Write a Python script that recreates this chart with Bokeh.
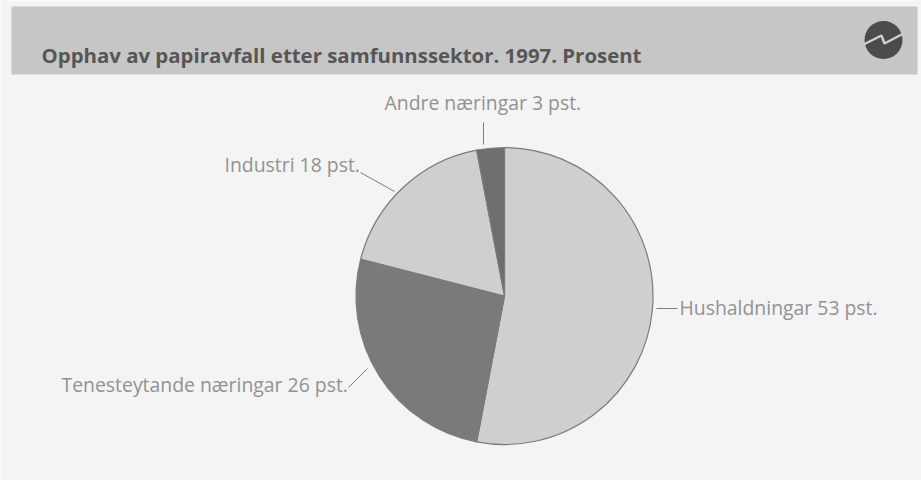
from math import pi
from bokeh.plotting import figure
from bokeh.models import Range1d
from bokeh.core.properties import value
from bokeh.embed import file_html
from bokeh.resources import INLINE

title_text = "Opphav av papiravfall etter samfunnssektor. 1997. Prosent"
categories = ["Hushaldningar", "Tenesteytande næringar", "Industri", "Andre næringar"]
shares = [53, 26, 18, 3]
colors = ["#cfcfcf", "#7b7979", "#cfcfcf", "#6f6d6d"]
labels = ["Hushaldningar 53 pst.", "Tenesteytande næringar 26 pst.", "Industri 18 pst.", "Andre næringar 3 pst."]

W, H = 921, 480
BG = "#f4f4f4"
TXT = "#929292"
def Y(py):
    return H - py
def X(px):
    return px

p = figure(width=W, height=H, x_range=Range1d(0, W), y_range=Range1d(0, H),
           output_backend="svg", toolbar_location=None, min_border=0,
           background_fill_color=BG, border_fill_color=BG, outline_line_color=None)
p.xaxis.visible = False
p.yaxis.visible = False
p.grid.visible = False

# header band
p.quad(left=[X(11)], right=[X(917)], top=[Y(6)], bottom=[Y(74)], fill_color="#c6c6c6", line_color=None)
p.text([X(41)], [Y(54)], text=[title_text], text_font=value("Open Sans"), text_font_style="bold",
       text_font_size="20.4px", text_color="#565656", text_baseline="alphabetic")

# logo
p.scatter([X(883)], [Y(39.5)], size=38, marker="circle", fill_color="#4c4a4a", line_color=None)
p.line([X(863), X(881), X(884), X(903)], [Y(44), Y(35), Y(43), Y(33)], line_color="#d0d0d0", line_width=2.4)

# pie
cx, cy, r = X(504), Y(295.5), 148.5
total = sum(shares)
cum = 0
starts, ends = [], []
for s in shares:
    starts.append(pi / 2 - 2 * pi * cum / total)
    cum += s
    ends.append(pi / 2 - 2 * pi * cum / total)
p.wedge(x=[cx] * 4, y=[cy] * 4, radius=r, start_angle=starts, end_angle=ends, direction="clock",
        fill_color=colors, line_color="#7b7b7b", line_width=1.2)

# leaders
lead_x0 = [656, 348, 360, 483]
lead_y0 = [308, 387, 172, 122]
lead_x1 = [677, 367, 394, 483]
lead_y1 = [308, 368, 191, 144]
p.segment([X(v) for v in lead_x0], [Y(v) for v in lead_y0], [X(v) for v in lead_x1], [Y(v) for v in lead_y1],
          line_color="#7c7c7c", line_width=1)

# labels
lab_x = [679, 61, 224, 384]
lab_y = [307, 384, 164, 102]
p.text([X(v) for v in lab_x], [Y(v) for v in lab_y], text=labels, text_font=value("Open Sans"),
       text_font_size="19.4px", text_color=TXT, text_baseline="alphabetic")

open("out.html", "w").write(file_html(p, INLINE))
